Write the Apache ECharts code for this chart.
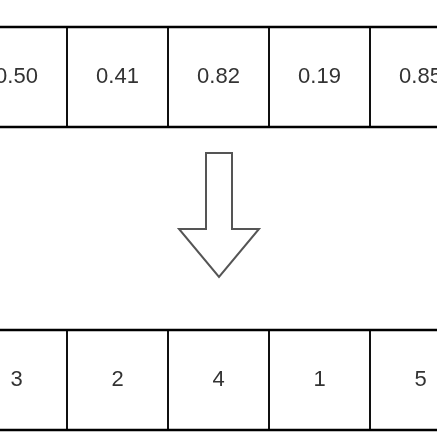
<!DOCTYPE html><html><head><meta charset="utf-8">
<script src="https://cdn.jsdelivr.net/npm/echarts@6/dist/echarts.min.js"></script>
<style>html,body{margin:0;padding:0;background:#fff}#c{width:437px;height:437px}</style></head>
<body><div id="c"></div><script>
const topValues = ['0.50','0.41','0.82','0.19','0.85'];
const bottomRanks = ['3','2','4','1','5'];
const rows = [{y0:27,y1:127,labels:topValues},{y0:330,y1:430,labels:bottomRanks}];
const data = [], labels = [];
rows.forEach((r,ri)=>r.labels.forEach((l,i)=>{data.push([i,r.y0,r.y1]);labels.push(l);}));
const chart = echarts.init(document.getElementById('c'));
chart.setOption({
  animation:false,
  grid:{left:0,right:0,top:0,bottom:0},
  xAxis:{type:'value',min:34/101,max:471/101,show:false},
  yAxis:{type:'value',min:0,max:437,inverse:true,show:false},
  graphic:[{type:'polygon',shape:{points:[[206,153],[232,153],[232,229],[259,229],[219,277],[179,229],[206,229]]},
    style:{fill:'#fff',stroke:'#555',lineWidth:2}}],
  series:[{type:'custom',data:data,clip:false,
    renderItem:(p,api)=>{
      const a=api.coord([api.value(0),api.value(1)]);
      const b=api.coord([api.value(0)+1,api.value(2)]);
      return {type:'group',children:[
        {type:'line',shape:{x1:a[0],y1:a[1],x2:a[0],y2:b[1]},style:{stroke:'#000',lineWidth:1.5}},
        {type:'line',shape:{x1:b[0],y1:a[1],x2:b[0],y2:b[1]},style:{stroke:'#000',lineWidth:1.5}},
        {type:'line',shape:{x1:a[0],y1:a[1],x2:b[0],y2:a[1]},style:{stroke:'#000',lineWidth:2.5}},
        {type:'line',shape:{x1:a[0],y1:b[1],x2:b[0],y2:b[1]},style:{stroke:'#000',lineWidth:2.5}},
        {type:'text',style:{x:(a[0]+b[0])/2,y:(a[1]+b[1])/2,text:labels[p.dataIndex],fill:'#333',
          font:'22px "Liberation Sans", Arial, sans-serif',align:'center',verticalAlign:'middle'}}
      ]};
    }}]
});
</script></body></html>
